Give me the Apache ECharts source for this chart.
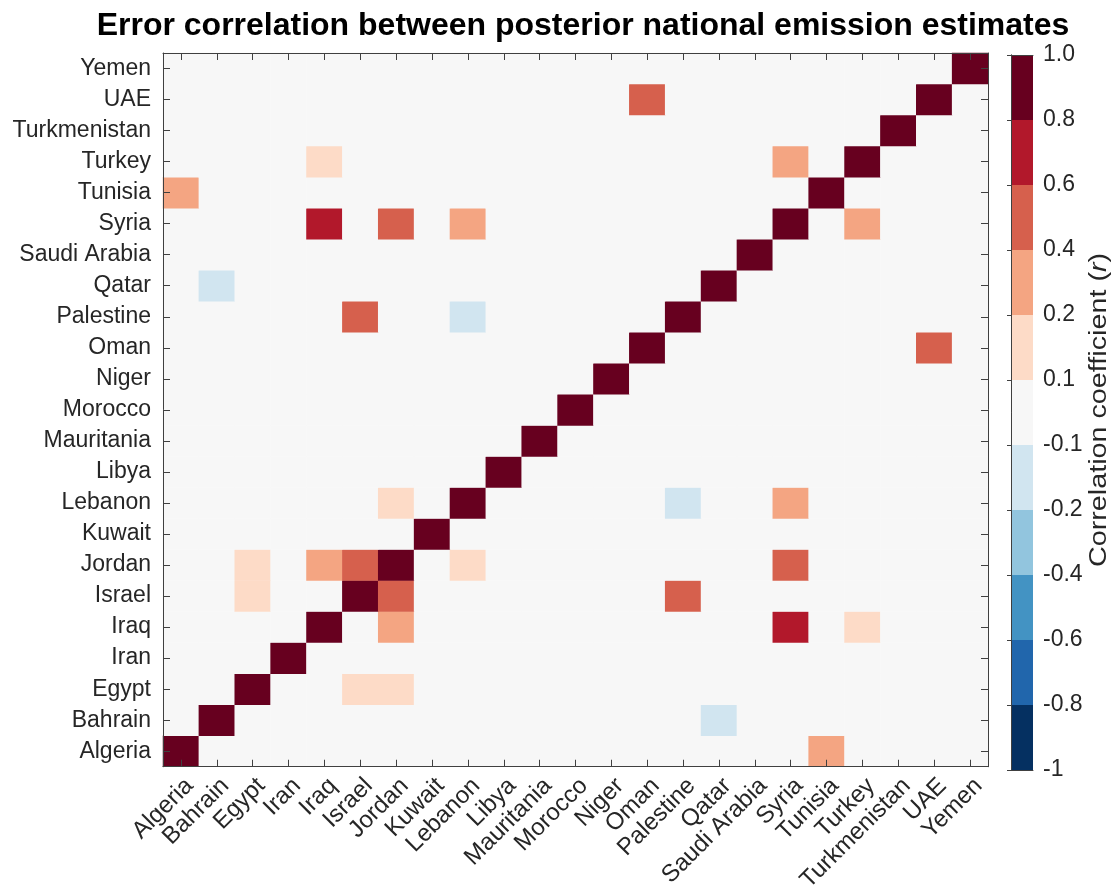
<!DOCTYPE html>
<html>
<head>
<meta charset="utf-8">
<script src="https://cdn.jsdelivr.net/npm/echarts@6/dist/echarts.min.js"></script>
<style>
html,body{margin:0;padding:0;background:#fff;}
#chart{width:1116px;height:895px;}
</style>
</head>
<body>
<div id="chart"></div>
<script>
const countries = ['Algeria','Bahrain','Egypt','Iran','Iraq','Israel','Jordan','Kuwait','Lebanon','Libya','Mauritania','Morocco','Niger','Oman','Palestine','Qatar','Saudi Arabia','Syria','Tunisia','Turkey','Turkmenistan','UAE','Yemen'];

// corr[row][col], rows and columns in the order of `countries`
const corr = [
  /* Algeria      */ [1,0,0,0,0,0,0,0,0,0,0,0,0,0,0,0,0,0,0.3,0,0,0,0],
  /* Bahrain      */ [0,1,0,0,0,0,0,0,0,0,0,0,0,0,0,-0.15,0,0,0,0,0,0,0],
  /* Egypt        */ [0,0,1,0,0,0.15,0.15,0,0,0,0,0,0,0,0,0,0,0,0,0,0,0,0],
  /* Iran         */ [0,0,0,1,0,0,0,0,0,0,0,0,0,0,0,0,0,0,0,0,0,0,0],
  /* Iraq         */ [0,0,0,0,1,0,0.3,0,0,0,0,0,0,0,0,0,0,0.7,0,0.15,0,0,0],
  /* Israel       */ [0,0,0.15,0,0,1,0.5,0,0,0,0,0,0,0,0.5,0,0,0,0,0,0,0,0],
  /* Jordan       */ [0,0,0.15,0,0.3,0.5,1,0,0.15,0,0,0,0,0,0,0,0,0.5,0,0,0,0,0],
  /* Kuwait       */ [0,0,0,0,0,0,0,1,0,0,0,0,0,0,0,0,0,0,0,0,0,0,0],
  /* Lebanon      */ [0,0,0,0,0,0,0.15,0,1,0,0,0,0,0,-0.15,0,0,0.3,0,0,0,0,0],
  /* Libya        */ [0,0,0,0,0,0,0,0,0,1,0,0,0,0,0,0,0,0,0,0,0,0,0],
  /* Mauritania   */ [0,0,0,0,0,0,0,0,0,0,1,0,0,0,0,0,0,0,0,0,0,0,0],
  /* Morocco      */ [0,0,0,0,0,0,0,0,0,0,0,1,0,0,0,0,0,0,0,0,0,0,0],
  /* Niger        */ [0,0,0,0,0,0,0,0,0,0,0,0,1,0,0,0,0,0,0,0,0,0,0],
  /* Oman         */ [0,0,0,0,0,0,0,0,0,0,0,0,0,1,0,0,0,0,0,0,0,0.5,0],
  /* Palestine    */ [0,0,0,0,0,0.5,0,0,-0.15,0,0,0,0,0,1,0,0,0,0,0,0,0,0],
  /* Qatar        */ [0,-0.15,0,0,0,0,0,0,0,0,0,0,0,0,0,1,0,0,0,0,0,0,0],
  /* Saudi Arabia */ [0,0,0,0,0,0,0,0,0,0,0,0,0,0,0,0,1,0,0,0,0,0,0],
  /* Syria        */ [0,0,0,0,0.7,0,0.5,0,0.3,0,0,0,0,0,0,0,0,1,0,0.3,0,0,0],
  /* Tunisia      */ [0.3,0,0,0,0,0,0,0,0,0,0,0,0,0,0,0,0,0,1,0,0,0,0],
  /* Turkey       */ [0,0,0,0,0.15,0,0,0,0,0,0,0,0,0,0,0,0,0.3,0,1,0,0,0],
  /* Turkmenistan */ [0,0,0,0,0,0,0,0,0,0,0,0,0,0,0,0,0,0,0,0,1,0,0],
  /* UAE          */ [0,0,0,0,0,0,0,0,0,0,0,0,0,0.5,0,0,0,0,0,0,0,1,0],
  /* Yemen        */ [0,0,0,0,0,0,0,0,0,0,0,0,0,0,0,0,0,0,0,0,0,0,1]
];

const bandEdges = [-1, -0.8, -0.6, -0.4, -0.2, -0.1, 0.1, 0.2, 0.4, 0.6, 0.8, 1.0];
const bandColors = ['#053061','#2166ac','#4393c3','#92c5de','#d1e5f0','#f7f7f7','#fddbc7','#f4a582','#d6604d','#b2182b','#67001f'];
const cbarTickLabels = ['-1','-0.8','-0.6','-0.4','-0.2','-0.1','0.1','0.2','0.4','0.6','0.8','1.0'];
const bandWidths = [1,1,1,1,1,1,1,1,1,1,1];

const FONT = '"Liberation Sans", Arial, Helvetica, sans-serif';
const TXT = '#262626';
const FRAME = '#404040';

const heatData = [];
corr.forEach((row, r) => row.forEach((v, c) => heatData.push([c, r, v])));

const pieces = bandColors.map((col, k) => {
  const p = { gte: bandEdges[k], color: col };
  if (k === bandColors.length - 1) p.lte = bandEdges[k + 1]; else p.lt = bandEdges[k + 1];
  return p;
});

const chart = echarts.init(document.getElementById('chart'), null, { renderer: 'canvas' });

const catAxisCommon = {
  type: 'category',
  data: countries,
  boundaryGap: true,
  z: 10,
  axisLine: { show: true, lineStyle: { color: FRAME, width: 1 } },
  axisTick: { show: true, inside: true, length: 7, alignWithLabel: true, interval: 0, lineStyle: { color: FRAME, width: 1 } },
  splitLine: { show: false }
};

chart.setOption({
  animation: false,
  backgroundColor: '#ffffff',
  title: {
    text: 'Error correlation between posterior national emission estimates',
    left: 578,
    top: 5,
    textAlign: 'center',
    textStyle: { fontFamily: FONT, fontSize: 32, fontWeight: 'bold', color: '#000' }
  },
  grid: [
    { left: 163, top: 53, width: 825, height: 716, show: false },
    { left: 1011, top: 55, width: 22, height: 715, show: false }
  ],
  xAxis: [
    Object.assign({}, catAxisCommon, {
      gridIndex: 0, position: 'bottom',
      axisLabel: { show: true, interval: 0, rotate: 45, margin: 7, align: 'right', verticalAlign: 'top',
        fontFamily: FONT, fontSize: 24, color: TXT }
    }),
    Object.assign({}, catAxisCommon, {
      gridIndex: 0, position: 'top', axisLabel: { show: false }
    }),
    { type: 'value', gridIndex: 1, min: 0, max: 1, position: 'bottom', z: 10,
      axisLine: { show: true, lineStyle: { color: FRAME } }, axisTick: { show: false }, axisLabel: { show: false }, splitLine: { show: false } },
    { type: 'value', gridIndex: 1, min: 0, max: 1, position: 'top', z: 10,
      axisLine: { show: true, lineStyle: { color: FRAME } }, axisTick: { show: false }, axisLabel: { show: false }, splitLine: { show: false } }
  ],
  yAxis: [
    Object.assign({}, catAxisCommon, {
      gridIndex: 0, position: 'left',
      axisLabel: { show: true, interval: 0, margin: 12, fontFamily: FONT, fontSize: 23, color: TXT }
    }),
    Object.assign({}, catAxisCommon, {
      gridIndex: 0, position: 'right', axisLabel: { show: false }
    }),
    { type: 'category', gridIndex: 1, position: 'left', data: bandColors.map((c, k) => k), z: 10,
      axisLine: { show: true, lineStyle: { color: FRAME } }, axisTick: { show: false }, axisLabel: { show: false }, splitLine: { show: false } },
    { type: 'value', gridIndex: 1, position: 'right', min: 0, max: 11, interval: 1, z: 10,
      axisLine: { show: true, lineStyle: { color: FRAME } },
      axisTick: { show: true, inside: true, length: 4, lineStyle: { color: FRAME } },
      axisLabel: { show: true, margin: 10, fontFamily: FONT, fontSize: 23, color: TXT,
        formatter: v => cbarTickLabels[Math.round(v)] },
      splitLine: { show: false } }
  ],
  visualMap: {
    type: 'piecewise',
    show: false,
    dimension: 2,
    seriesIndex: 0,
    pieces: pieces
  },
  series: [
    {
      type: 'heatmap',
      xAxisIndex: 0,
      yAxisIndex: 0,
      data: heatData,
      itemStyle: { borderWidth: 0 },
      emphasis: { disabled: true }
    },
    {
      type: 'bar',
      xAxisIndex: 2,
      yAxisIndex: 2,
      barWidth: '100%',
      barCategoryGap: 0,
      data: bandWidths.map((w, k) => ({ value: w, itemStyle: { color: bandColors[k] } })),
      emphasis: { disabled: true },
      silent: true
    }
  ],
  graphic: [
    {
      type: 'text',
      x: 1100,
      y: 410,
      rotation: Math.PI / 2,
      scaleX: 1.25,
      style: {
        text: '{a|Correlation coefficient (}{b|r}{a|)}',
        align: 'center',
        verticalAlign: 'middle',
        fill: TXT,
        font: '23px ' + FONT,
        rich: {
          a: { fontFamily: FONT, fontSize: 23, fill: TXT, color: TXT },
          b: { fontFamily: FONT, fontSize: 23, fontStyle: 'italic', fill: TXT, color: TXT }
        }
      }
    }
  ]
});
</script>
</body>
</html>
